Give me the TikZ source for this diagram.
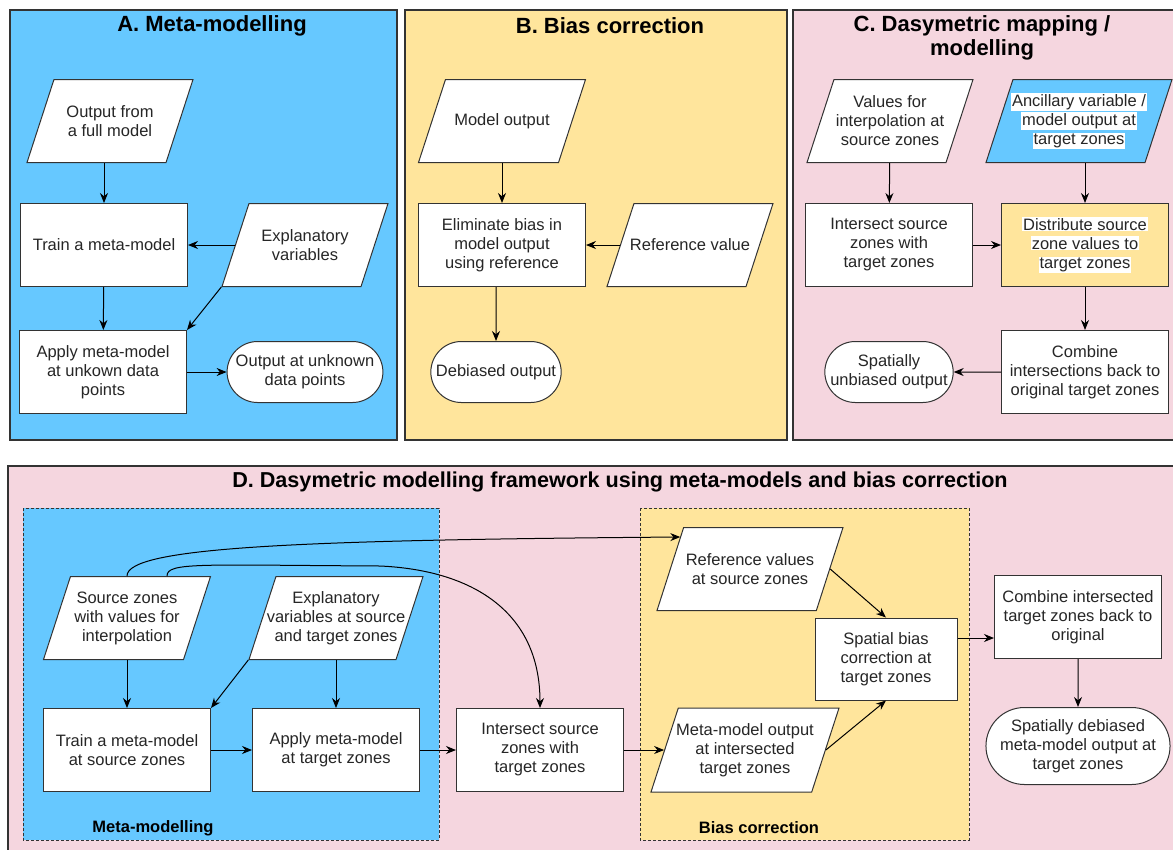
\documentclass[tikz,border=0pt]{standalone}
\usepackage{fontspec}
\setmainfont{Liberation Sans}
\usetikzlibrary{shapes.geometric, shapes.misc, arrows.meta}

\definecolor{panelblue}{HTML}{66C8FF}
\definecolor{panelyellow}{HTML}{FFE59C}
\definecolor{panelpink}{HTML}{F5D6DF}
\definecolor{linegray}{HTML}{333333}

\setlength{\fboxsep}{1pt}
\newcommand{\whitebg}[1]{\colorbox{white}{#1}}

\begin{document}
\begin{tikzpicture}[x=1pt, y=-1pt, >={Stealth[length=10pt, width=8pt]},
    box/.style={draw=linegray, fill=white, line width=1pt, minimum width=167pt, minimum height=83pt,
        align=center, text=black!85, font=\fontsize{16.5}{19}\selectfont},
    io/.style={box, trapezium, trapezium left angle=72, trapezium right angle=108,
        trapezium stretches body, inner xsep=0pt, inner ysep=41.5pt, minimum width=166pt},
    iotext/.style={align=center, text=black!85, font=\fontsize{16.5}{19}\selectfont},
    term/.style={box, rounded rectangle, minimum height=61pt},
    arr/.style={->, draw=black, line width=1pt},
    panel/.style={draw=linegray, line width=1.2pt},
    group/.style={draw=linegray, line width=1pt, dash pattern=on 3pt off 2pt},
    paneltitle/.style={align=center, font=\bfseries\fontsize{22}{24.5}\selectfont},
    grouplabel/.style={font=\bfseries\fontsize{16.5}{19}\selectfont}]

    \useasboundingbox (0,0) rectangle (1173,849);
    \clip (0,0) rectangle (1173,849);
    \fill[white] (0,0) rectangle (1173,849);

    % A. Meta-modelling
    \draw[panel, fill=panelblue] (10,10) rectangle (397,440);
    \node[paneltitle] (titleA) at (212,26) {A. Meta-modelling};
    \node[io, label={[iotext]center:{Output from\\a full model}}] (fullA) at (110,121) {};
    \node[box] (trainA) at (104,245) {Train a meta-model};
    \node[io, label={[iotext]center:{Explanatory\\variables}}] (explA) at (305,245) {};
    \node[box] (applyA) at (103,372) {Apply meta-model\\at unkown data\\points};
    \node[term, minimum width=155pt] (outA) at (305,372) {Output at unknown\\data points};

    \draw[arr] (fullA.south -| trainA) -- (trainA);
    \draw[arr] (explA) -- (trainA);
    \draw[arr] (trainA) -- (applyA);
    \draw[arr] (explA.bottom left corner) -- (applyA.north east);
    \draw[arr] (applyA) -- (outA);

    % B. Bias correction
    \draw[panel, fill=panelyellow] (405,10) rectangle (787,440);
    \node[paneltitle] (titleB) at (610,26) {B. Bias correction};
    \node[io, minimum width=167pt, label={[iotext]center:Model output}] (modB) at (502,121) {};
    \node[box] (elimB) at (502,245) {Eliminate bias in\\model output\\using reference};
    \node[io, label={[iotext]center:Reference value}] (refB) at (690,245) {};
    \node[term, minimum width=137pt] (debB) at (496,372) {Debiased output};

    \draw[arr] (modB) -- (elimB);
    \draw[arr] (refB) -- (elimB);
    \draw[arr] (elimB.south -| debB) -- (debB);

    % C. Dasymetric mapping / modelling
    \draw[panel, fill=panelpink] (793,10) rectangle (1190,440);
    \node[paneltitle] (titleC) at (982,38) {C. Dasymetric mapping /\\modelling};
    \node[io, label={[iotext]center:{Values for\\interpolation at\\source zones}}] (valC) at (890,121) {};
    \node[io, fill=panelblue, minimum width=186pt, label={[iotext]center:{\whitebg{Ancillary variable /}\\
        \whitebg{model output at}\\\whitebg{target zones}}}] (ancC) at (1079,121) {};
    \node[box] (intC) at (889,245) {Intersect source\\zones with\\target zones};
    \node[box, fill=panelyellow] (distC) at (1085,245)
        {\whitebg{Distribute source}\\\whitebg{zone values to}\\\whitebg{target zones}};
    \node[box] (combC) at (1085,372) {Combine\\intersections back to\\original target zones};
    \node[term, minimum width=135pt] (spatC) at (889,372) {Spatially\\unbiased output};

    \draw[arr] (valC) -- (intC);
    \draw[arr] (ancC.south -| distC) -- (distC);
    \draw[arr] (intC) -- (distC);
    \draw[arr] (distC) -- (combC);
    \draw[arr] (combC) -- (spatC);

    % D. Framework
    \draw[panel, fill=panelpink] (8,466) rectangle (1190,860);
    \node[paneltitle, font=\bfseries\fontsize{21.6}{24}\selectfont] (titleD) at (620,482)
        {D. Dasymetric modelling framework using meta-models and bias correction};
    \draw[group, fill=panelblue] (23,508) rectangle (439,840);
    \draw[group, fill=panelyellow] (640,508) rectangle (969,840);
    \node[grouplabel] (metaL) at (153,828) {Meta-modelling};
    \node[grouplabel] (biasL) at (759,828) {Bias correction};

    \node[io, minimum width=167pt, label={[iotext]center:{Source zones\\with values for\\interpolation}}] (srcD) at (127,618) {};
    \node[io, minimum width=174pt, label={[iotext]center:{Explanatory\\variables at source\\and target zones}}] (explD) at (336,618) {};
    \node[box] (trainD) at (127,750) {Train a meta-model\\at source zones};
    \node[box] (applyD) at (336,750) {Apply meta-model\\at target zones};
    \node[box] (intD) at (540,750) {Intersect source\\zones with\\target zones};
    \node[io, minimum width=186pt, inner ysep=41pt, label={[iotext]center:{Reference values\\at source zones}}] (refD) at (750,569) {};
    \node[io, minimum width=188pt, inner ysep=42pt, label={[iotext]center:{Meta-model output\\at intersected\\target zones}}] (mmoD) at (745,750) {};
    \node[box, minimum width=142pt, minimum height=82pt] (sbcD) at (886,659) {Spatial bias\\correction at\\target zones};
    \node[box] (combD) at (1078,617) {Combine intersected\\target zones back to\\original};
    \node[term, minimum width=170pt, minimum height=77pt] (sdbD) at (1078,746) {Spatially debiased\\meta-model output at\\target zones};

    \draw[arr] (srcD) -- (trainD);
    \draw[arr] (explD.bottom left corner) -- (trainD.north east);
    \draw[arr] (explD) -- (applyD);
    \draw[arr] (trainD) -- (applyD);
    \draw[arr] (applyD) -- (intD);
    \draw[arr] (intD) -- (mmoD);
    \draw[arr] (refD.right side) -- (sbcD.north);
    \draw[arr] (mmoD.right side) -- (sbcD.south);
    \draw[arr] ([yshift=21pt]sbcD.east) -- ([yshift=21pt]sbcD.east -| combD.west);
    \draw[arr] (combD) -- (sdbD);
    \draw[arr] (srcD.north) .. controls +(0,-29) and (300,540) .. ([shift={(-3,10)}]refD.top left corner);
    \draw[arr] ([shift={(40,0)}]srcD.north) .. controls +(0,-14) and (200,565) .. (380,566)
        .. controls (470,570) and (540,610) .. (intD.north);
\end{tikzpicture}
\end{document}
